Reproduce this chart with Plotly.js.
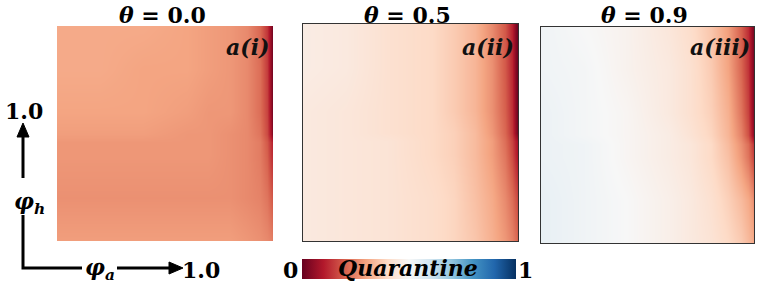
<!DOCTYPE html>
<html>
<head>
<meta charset="utf-8">
<script src="https://cdn.plot.ly/plotly-3.0.1.min.js"></script>
<style>html,body{margin:0;padding:0;background:#fff;}#chart{width:762px;height:287px;}</style>
</head>
<body>
<div id="chart"></div>
<script>
// phi_a grid (columns) and phi_h grid (rows)
const phiA = [0, 0.2, 0.4, 0.6, 0.7, 0.8, 0.88, 0.94, 0.97, 0.99, 1.0];
const phiH = [0, 0.2, 0.4, 0.46, 0.5, 0.6, 0.8, 1.0];

const thetas = ["0.0", "0.5", "0.9"];
const panelLabels = ["a(i)", "a(ii)", "a(iii)"];

// Quarantine values, theta = 0.0 (rows: phi_h from 0 to 1)
const quarantine0 = [
  [0.29,0.29,0.29,0.29,0.29,0.29,0.28,0.27,0.26,0.25,0.24],
  [0.27,0.27,0.27,0.27,0.27,0.27,0.26,0.25,0.23,0.20,0.18],
  [0.28,0.28,0.28,0.28,0.28,0.27,0.26,0.24,0.20,0.14,0.12],
  [0.28,0.28,0.28,0.28,0.28,0.27,0.26,0.24,0.19,0.13,0.10],
  [0.29,0.29,0.29,0.28,0.28,0.27,0.26,0.23,0.17,0.08,0.01],
  [0.30,0.30,0.30,0.29,0.28,0.28,0.26,0.22,0.16,0.06,0.00],
  [0.31,0.31,0.30,0.30,0.29,0.28,0.26,0.22,0.15,0.05,0.00],
  [0.31,0.31,0.31,0.30,0.29,0.28,0.26,0.21,0.14,0.05,0.00]
];
// theta = 0.5
const quarantine5 = [
  [0.45,0.44,0.43,0.41,0.39,0.36,0.32,0.28,0.25,0.22,0.19],
  [0.45,0.44,0.43,0.41,0.39,0.35,0.31,0.26,0.22,0.18,0.15],
  [0.45,0.44,0.43,0.40,0.38,0.34,0.29,0.23,0.17,0.11,0.08],
  [0.45,0.44,0.43,0.40,0.38,0.34,0.29,0.22,0.16,0.10,0.07],
  [0.45,0.44,0.42,0.40,0.38,0.34,0.28,0.21,0.14,0.05,0.01],
  [0.45,0.44,0.42,0.40,0.37,0.33,0.27,0.20,0.13,0.04,0.00],
  [0.46,0.45,0.42,0.40,0.37,0.33,0.27,0.19,0.12,0.03,0.00],
  [0.46,0.45,0.42,0.40,0.37,0.33,0.26,0.19,0.11,0.03,0.00]
];
// theta = 0.9
const quarantine9 = [
  [0.54,0.52,0.50,0.47,0.45,0.43,0.40,0.37,0.34,0.32,0.30],
  [0.54,0.52,0.50,0.47,0.45,0.42,0.38,0.34,0.31,0.28,0.25],
  [0.53,0.52,0.49,0.46,0.44,0.40,0.35,0.28,0.23,0.18,0.15],
  [0.53,0.52,0.49,0.46,0.44,0.40,0.34,0.27,0.22,0.16,0.13],
  [0.53,0.51,0.49,0.46,0.43,0.39,0.33,0.25,0.18,0.09,0.04],
  [0.53,0.51,0.49,0.45,0.42,0.38,0.32,0.23,0.16,0.07,0.03],
  [0.52,0.51,0.48,0.45,0.42,0.37,0.30,0.21,0.14,0.06,0.02],
  [0.52,0.50,0.48,0.44,0.41,0.36,0.29,0.20,0.13,0.05,0.02]
];

const W = 762, H = 287;
const px = v => v / W;
const py = v => 1 - v / H;

const rdbu = [
  [0.0,'#67001f'],[0.1,'#b2182b'],[0.2,'#d6604d'],[0.3,'#f4a582'],[0.4,'#fddbc7'],
  [0.5,'#f7f7f7'],[0.6,'#d1e5f0'],[0.7,'#92c5de'],[0.8,'#4393c3'],[0.9,'#2166ac'],[1.0,'#053061']
];

const zs = [quarantine0, quarantine5, quarantine9];
// panel boxes in pixels: [left, right, top, bottom]
const boxes = [[57,273,26,241],[303,518,24,241],[541,754,27,243]];
const framed = [false, true, true];

const traces = zs.map((z, i) => ({
  type: 'heatmap', x: phiA, y: phiH, z: z,
  xaxis: i === 0 ? 'x' : 'x' + (i + 1),
  yaxis: i === 0 ? 'y' : 'y' + (i + 1),
  colorscale: rdbu, zmin: 0, zmax: 1, zsmooth: 'best',
  showscale: i === 0,
  hoverinfo: 'skip',
  colorbar: {
    orientation: 'h', thickness: 20, thicknessmode: 'pixels',
    len: 214, lenmode: 'pixels',
    x: px(302), xanchor: 'left', y: py(279), yanchor: 'bottom',
    xpad: 0, ypad: 0, outlinewidth: 0, showticklabels: false, ticks: ''
  }
}));

const layout = {
  width: W, height: H,
  margin: {l: 0, r: 0, t: 0, b: 0},
  paper_bgcolor: '#fff', plot_bgcolor: '#fff',
  showlegend: false,
  annotations: [], shapes: []
};

const SERIF = 'DejaVu Serif, Liberation Serif, serif';
const tfont = {family: SERIF, size: 22, color: '#000'};

function label(x, y, text, font) {
  return {xref: 'paper', yref: 'paper', x: px(x), y: py(y), text: text, showarrow: false,
          font: font, xanchor: 'center', yanchor: 'middle'};
}

boxes.forEach((b, i) => {
  const xk = i === 0 ? 'xaxis' : 'xaxis' + (i + 1);
  const yk = i === 0 ? 'yaxis' : 'yaxis' + (i + 1);
  const common = {
    showgrid: false, zeroline: false, showticklabels: false, ticks: '',
    showline: framed[i], mirror: framed[i], linecolor: '#333', linewidth: 1
  };
  layout[xk] = Object.assign({domain: [px(b[0]), px(b[1])], range: [0, 1], anchor: i === 0 ? 'y' : 'y' + (i + 1)}, common);
  layout[yk] = Object.assign({domain: [py(b[3]), py(b[2])], range: [0, 1], anchor: i === 0 ? 'x' : 'x' + (i + 1)}, common);
  layout.annotations.push(label((b[0] + b[1]) / 2 - 3, 15, '<b><i>θ</i> = ' + thetas[i] + '</b>', tfont));
  const a = label(b[1] - 2, 47, '<b><i>' + panelLabels[i] + '</i></b>', {family: SERIF, size: 22, color: '#111'});
  a.xanchor = 'right';
  layout.annotations.push(a);
});

// axis labels at the lower left
const lf = {family: SERIF, size: 22, color: '#000'};
layout.annotations.push(
  label(24, 111, '<b>1.0</b>', lf),
  label(29, 203, '<b><i>φ<sub>h</sub></i></b>', lf),
  label(100, 269, '<b><i>φ<sub>a</sub></i></b>', lf),
  label(201, 270, '<b>1.0</b>', lf),
  label(290, 270, '<b>0</b>', lf),
  label(525, 270, '<b>1</b>', lf),
  label(408, 268, '<b><i>Quarantine</i></b>', {family: SERIF, size: 22, color: '#000'})
);
// arrows drawn as shapes
const line = {color: '#000', width: 3};
const pathOf = pts => pts.map((p, k) => (k ? 'L ' : 'M ') + px(p[0]) + ' ' + py(p[1])).join(' ');
layout.shapes.push(
  {type: 'path', xref: 'paper', yref: 'paper', path: pathOf([[23,215],[23,268],[82,268]]), line: line},
  {type: 'path', xref: 'paper', yref: 'paper', path: pathOf([[23,178],[23,134]]), line: line},
  {type: 'path', xref: 'paper', yref: 'paper', path: pathOf([[17,137],[23,123],[29,137]]) + ' Z',
   line: {color: '#000', width: 1}, fillcolor: '#000'},
  {type: 'path', xref: 'paper', yref: 'paper', path: pathOf([[117,268],[172,268]]), line: line},
  {type: 'path', xref: 'paper', yref: 'paper', path: pathOf([[169,262],[183,268],[169,274]]) + ' Z',
   line: {color: '#000', width: 1}, fillcolor: '#000'}
);

Plotly.newPlot('chart', traces, layout, {displayModeBar: false, staticPlot: true});
</script>
</body>
</html>
